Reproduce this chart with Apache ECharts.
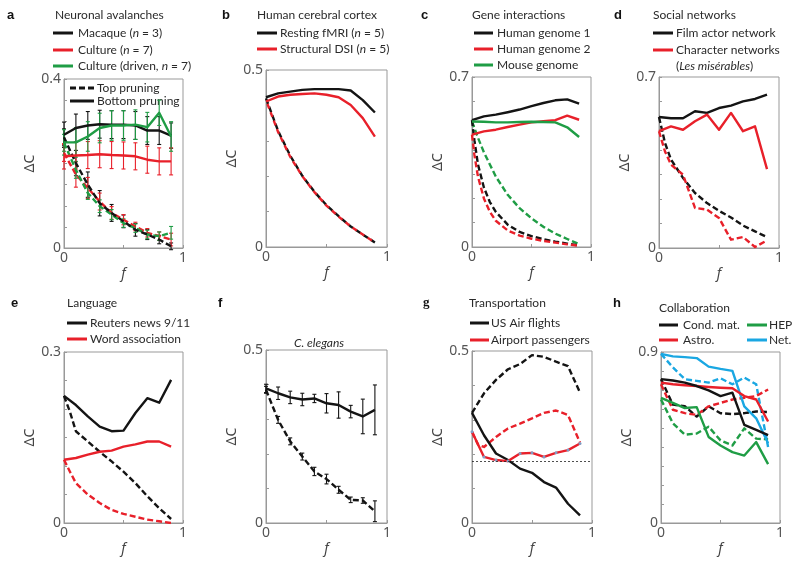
<!DOCTYPE html>
<html><head><meta charset="utf-8">
<script src="https://cdn.jsdelivr.net/npm/echarts@6/dist/echarts.min.js"></script>
<style>html,body{margin:0;padding:0;background:#fff}#c{width:800px;height:562px}</style>
</head><body><div id="c"></div>
<script>
// ---------- data ----------
const fStep = [0,0.1,0.2,0.3,0.4,0.5,0.6,0.7,0.8,0.9];
const fFine = [0,0.02,0.05,0.1,0.15,0.2,0.3,0.4,0.5,0.6,0.7,0.8,0.9];
const fHalf = [0,0.05,0.1,0.2,0.3,0.4,0.5,0.6,0.7,0.8,0.9];

// a  Neuronal avalanches
const aMacaqueBottom = [0.268,0.284,0.290,0.293,0.292,0.292,0.290,0.278,0.278,0.266];
const aMacaqueBottomErr = [0.030,0.033,0.033,0.033,0.033,0.033,0.033,0.033,0.033,0.030];
const aCultureBottom = [0.217,0.219,0.220,0.222,0.220,0.219,0.217,0.209,0.205,0.205];
const aCultureBottomErr = [0.030,0.032,0.032,0.032,0.032,0.032,0.032,0.032,0.032,0.032];
const aDrivenBottom = [0.250,0.250,0.264,0.284,0.290,0.290,0.292,0.286,0.320,0.264];
const aDrivenBottomErr = [0.030,0.035,0.035,0.035,0.035,0.035,0.035,0.035,0.030,0.035];
const aMacaqueTop = [0.262,0.201,0.150,0.106,0.083,0.063,0.043,0.032,0.020,0.004];
const aMacaqueTopErr = [0.020,0.030,0.030,0.030,0.020,0.015,0.015,0.012,0.010,0.008];
const aCultureTop = [0.225,0.174,0.142,0.110,0.083,0.067,0.051,0.036,0.028,0.020];
const aCultureTopErr = [0.020,0.030,0.025,0.020,0.015,0.012,0.010,0.010,0.010,0.015];
const aDrivenTop = [0.249,0.185,0.130,0.099,0.079,0.059,0.047,0.032,0.028,0.036];
const aDrivenTopErr = [0.020,0.020,0.015,0.015,0.012,0.010,0.010,0.010,0.010,0.015];

// b  Human cerebral cortex
const bFmriBottom = [0.423,0.434,0.439,0.444,0.446,0.446,0.446,0.442,0.415,0.380];
const bDsiBottom = [0.411,0.425,0.430,0.432,0.434,0.430,0.423,0.401,0.364,0.312];
const bFmriTop = [0.420,0.328,0.258,0.201,0.156,0.118,0.087,0.058,0.035,0.013];
const bDsiTop = [0.415,0.325,0.255,0.200,0.155,0.117,0.086,0.058,0.035,0.013];

// c  Gene interactions (top pruning on fFine)
const cHuman1Bottom = [0.522,0.538,0.545,0.555,0.566,0.580,0.593,0.604,0.608,0.590];
const cHuman2Bottom = [0.463,0.476,0.483,0.494,0.504,0.513,0.518,0.522,0.541,0.524];
const cMouseBottom = [0.517,0.516,0.513,0.513,0.515,0.516,0.515,0.513,0.493,0.453];
const cHuman1Top = [0.522,0.440,0.340,0.245,0.185,0.145,0.092,0.062,0.045,0.032,0.022,0.014,0.006];
const cHuman2Top = [0.463,0.380,0.290,0.200,0.145,0.108,0.068,0.047,0.034,0.025,0.018,0.011,0.005];
const cMouseTop = [0.517,0.490,0.450,0.390,0.340,0.290,0.215,0.160,0.118,0.083,0.055,0.033,0.012];

// d  Social networks (top pruning on fHalf)
const dFilmBottom = [0.536,0.531,0.531,0.560,0.553,0.573,0.583,0.600,0.610,0.628];
const dCharBottom = [0.478,0.498,0.484,0.519,0.546,0.484,0.553,0.478,0.498,0.323];
const dFilmTop = [0.536,0.430,0.362,0.287,0.225,0.184,0.152,0.125,0.092,0.068,0.045];
const dCharTop = [0.478,0.395,0.341,0.300,0.164,0.157,0.123,0.034,0.045,0.004,0.031];

// e  Language (top pruning on fHalf)
const eReutersBottom = [0.223,0.207,0.187,0.169,0.161,0.162,0.193,0.219,0.211,0.251];
const eWordBottom = [0.111,0.114,0.120,0.125,0.127,0.134,0.138,0.143,0.143,0.134];
const eReutersTop = [0.223,0.195,0.161,0.143,0.125,0.108,0.090,0.070,0.047,0.026,0.007];
const eWordTop = [0.111,0.090,0.070,0.050,0.035,0.023,0.016,0.011,0.006,0.003,0.000];

// f  C. elegans
const fElegansBottom = [0.389,0.375,0.363,0.357,0.360,0.346,0.341,0.322,0.308,0.327];
const fElegansBottomErr = [0.012,0.018,0.018,0.018,0.012,0.028,0.038,0.018,0.050,0.072];
const fElegansTop = [0.385,0.298,0.236,0.192,0.149,0.127,0.096,0.067,0.065,0.034];
const fElegansTopErr = [0.010,0.010,0.010,0.010,0.012,0.014,0.010,0.008,0.008,0.030];

// g  Transportation (red top pruning on fHalf)
const gFlightsBottom = [0.320,0.255,0.202,0.183,0.158,0.146,0.119,0.103,0.056,0.022];
const gFlightsTop = [0.320,0.377,0.416,0.447,0.462,0.488,0.483,0.469,0.456,0.379];
const gPassBottom = [0.265,0.192,0.183,0.180,0.202,0.204,0.192,0.204,0.212,0.231];
const gPassTop = [0.265,0.228,0.221,0.250,0.275,0.289,0.304,0.320,0.327,0.314,0.234];
const gReference = [0.178];

// h  Collaboration
const hCondBottom = [0.757,0.750,0.739,0.721,0.698,0.668,0.686,0.516,0.490,0.462];
const hCondTop = [0.757,0.623,0.615,0.560,0.614,0.578,0.573,0.578,0.587,0.584];
const hAstroBottom = [0.739,0.730,0.725,0.721,0.716,0.712,0.709,0.668,0.650,0.534];
const hAstroTop = [0.730,0.596,0.578,0.569,0.614,0.632,0.650,0.659,0.668,0.703];
const hHepBottom = [0.659,0.632,0.605,0.610,0.453,0.408,0.373,0.355,0.426,0.310];
const hHepTop = [0.650,0.525,0.465,0.471,0.507,0.435,0.408,0.498,0.444,0.440];
const hNetBottom = [0.890,0.877,0.873,0.868,0.823,0.811,0.801,0.614,0.551,0.420];
const hNetTop = [0.890,0.819,0.757,0.748,0.739,0.762,0.730,0.766,0.730,0.400];

// axis maxima / tick steps
const yMax = [0.4,0.5,0.7,0.7,0.3,0.5,0.5,0.9];
const yStep = [0.05,0.1,0.1,0.1,0.05,0.1,0.1,0.1];

// ---------- styling ----------
const K = '#141414', R = '#e8202a', G = '#1f9d45', B = '#1aa7e2';
const FONT = 'Lato';
const AFONT = '"Noto Sans", "Open Sans", sans-serif';
const grids = [
  {left:64, top:79, width:119, height:169},
  {left:266, top:70, width:121, height:177},
  {left:472, top:77, width:119, height:170},
  {left:659, top:77, width:120, height:171},
  {left:64, top:352, width:119, height:171},
  {left:266, top:350, width:121, height:173},
  {left:472, top:351, width:120, height:172},
  {left:661, top:352, width:119, height:171}
];

const xAxes = grids.map((g,i)=>({
  gridIndex:i, type:'value', min:0, max:1, interval:0.5,
  axisLine:{show:true, onZero:false, lineStyle:{color:'#999', width:1}},
  axisTick:{show:true, inside:true, length:3, lineStyle:{color:'#999'}},
  splitLine:{show:false},
  axisLabel:{color:'#555', fontSize:14, fontFamily:AFONT, margin:3,
    formatter:v=> (v===0?'0':(Math.abs(v-1)<1e-9?'1':''))},
  name:'f', nameLocation:'middle', nameGap:19,
  nameTextStyle:{fontStyle:'italic', fontSize:14, color:'#444', fontFamily:AFONT}
}));
const yAxes = grids.map((g,i)=>({
  gridIndex:i, type:'value', min:0, max:yMax[i], interval:yStep[i],
  axisLine:{show:true, lineStyle:{color:'#999', width:1}},
  axisTick:{show:true, inside:true, length:3, lineStyle:{color:'#999'}},
  splitLine:{show:false},
  axisLabel:{color:'#555', fontSize:14, fontFamily:AFONT, margin:3,
    formatter:v=> (Math.abs(v)<1e-9?'0':(Math.abs(v-yMax[i])<1e-9?String(yMax[i]):''))},
  name:'\u0394C', nameLocation:'middle', nameGap:22, nameRotate:90,
  nameTextStyle:{fontSize:14, color:'#444', fontFamily:AFONT}
}));

const series = [];
function pairs(xs, ys){ return ys.map((y,k)=>[xs[k], y]); }
function line(gi, xs, ys, color, dashed, extra){
  series.push(Object.assign({
    type:'line', xAxisIndex:gi, yAxisIndex:gi, data:pairs(xs,ys),
    showSymbol:false, symbol:'none', silent:true, animation:false,
    lineStyle:{color:color, width:2.4, type: dashed?[6,3]:'solid', cap:'butt', join:'round'}
  }, extra||{}));
}
function errs(gi, xs, ys, es, color){
  series.push({
    type:'custom', xAxisIndex:gi, yAxisIndex:gi, silent:true, animation:false,
    data: ys.map((y,k)=>[xs[k], y, es[k]]),
    encode:{x:0, y:1},
    renderItem:function(params, api){
      const x = api.value(0), y = api.value(1), e = api.value(2);
      const t = api.coord([x, y+e]), b = api.coord([x, y-e]);
      const st = {stroke:color, lineWidth:1.1};
      return {type:'group', children:[
        {type:'line', shape:{x1:t[0], y1:t[1], x2:b[0], y2:b[1]}, style:st},
        {type:'line', shape:{x1:t[0]-2, y1:t[1], x2:t[0]+2, y2:t[1]}, style:st},
        {type:'line', shape:{x1:b[0]-2, y1:b[1], x2:b[0]+2, y2:b[1]}, style:st}
      ]};
    }
  });
}

// a
errs(0,fStep,aMacaqueTop,aMacaqueTopErr,K);
errs(0,fStep,aCultureTop,aCultureTopErr,R);
errs(0,fStep,aDrivenTop,aDrivenTopErr,G);
errs(0,fStep,aMacaqueBottom,aMacaqueBottomErr,K);
errs(0,fStep,aCultureBottom,aCultureBottomErr,R);
errs(0,fStep,aDrivenBottom,aDrivenBottomErr,G);
line(0,fStep,aCultureTop,R,true);
line(0,fStep,aDrivenTop,G,true);
line(0,fStep,aMacaqueTop,K,true);
line(0,fStep,aMacaqueBottom,K,false);
line(0,fStep,aCultureBottom,R,false);
line(0,fStep,aDrivenBottom,G,false);
// b
line(1,fStep,bFmriTop,K,true);
line(1,fStep,bDsiTop,R,true,{lineStyle:{color:R,width:2.4,type:[5,4],dashOffset:5}});
line(1,fStep,bFmriBottom,K,false);
line(1,fStep,bDsiBottom,R,false);
// c
line(2,fFine,cMouseTop,G,true);
line(2,fFine,cHuman1Top,K,true);
line(2,fFine,cHuman2Top,R,true);
line(2,fStep,cHuman1Bottom,K,false);
line(2,fStep,cHuman2Bottom,R,false);
line(2,fStep,cMouseBottom,G,false);
// d
line(3,fHalf,dFilmTop,K,true);
line(3,fHalf,dCharTop,R,true);
line(3,fStep,dFilmBottom,K,false);
line(3,fStep,dCharBottom,R,false);
// e
line(4,fHalf,eReutersTop,K,true);
line(4,fHalf,eWordTop,R,true);
line(4,fStep,eReutersBottom,K,false);
line(4,fStep,eWordBottom,R,false);
// f
errs(5,fStep,fElegansBottom,fElegansBottomErr,K);
errs(5,fStep,fElegansTop,fElegansTopErr,K);
line(5,fStep,fElegansBottom,K,false);
line(5,fStep,fElegansTop,K,true);
// g
line(6,fStep,gFlightsTop,K,true,{markLine:{silent:true, symbol:'none', label:{show:false},
  lineStyle:{color:'#222', type:[2,2], width:0.8}, data:[{yAxis:gReference[0]}]}});
line(6,fHalf,gPassTop,R,true);
line(6,fStep,gFlightsBottom,K,false);
line(6,fStep,gPassBottom,R,false,{showSymbol:true, symbol:'circle', symbolSize:3, itemStyle:{color:'#7f9cc4'}});
// h
line(7,fStep,hNetTop,B,true);
line(7,fStep,hHepTop,G,true);
line(7,fStep,hCondTop,K,true);
line(7,fStep,hAstroTop,R,true);
line(7,fStep,hNetBottom,B,false);
line(7,fStep,hHepBottom,G,false);
line(7,fStep,hAstroBottom,R,false);
line(7,fStep,hCondBottom,K,false);

// ---------- annotations ----------
const gfx = [];
const FS = 12;
const INK = '#2a2a2a';
function txt(x, y, text, opt){
  gfx.push({type:'text', x:x, y:y, silent:true, style:Object.assign({
    text:text, fill:INK, fontSize:FS, fontFamily:FONT, fontStyle:'normal', fontWeight:'normal',
    verticalAlign:'middle', align:'left'
  }, opt||{})});
}
function rich(x, y, text){
  txt(x, y, text, {rich:{
    t:{fontSize:FS, fontFamily:FONT, fill:INK, fontStyle:'normal'},
    i:{fontSize:FS, fontFamily:FONT, fill:INK, fontStyle:'italic'}
  }});
}
function sw(x1, x2, y, color, dashed){
  gfx.push({type:'line', silent:true, shape:{x1:x1, y1:y, x2:x2, y2:y},
    style:{stroke:color, lineWidth:3, lineDash: dashed?[6,3]:null}});
}
function letter(x, y, ch, serif){
  txt(x, y, ch, {fontSize:13, fontWeight:'bold', fill:'#111',
    fontFamily: serif ? '"Liberation Serif", serif' : '"Liberation Sans", Arial, sans-serif'});
}
// a
letter(7,15,'a');
txt(55,15,'Neuronal avalanches');
sw(53,73,33,K); rich(78,33,'{t|Macaque (}{i|n}{t| = 3)}');
sw(53,73,50,R); rich(78,50,'{t|Culture (}{i|n}{t| = 7)}');
sw(53,73,66,G); rich(78,66,'{t|Culture (driven, }{i|n}{t| = 7)}');
sw(70,94,88,K,true); txt(97,88,'Top pruning');
sw(70,94,101,K); txt(97,101,'Bottom pruning');
// b
letter(222,15,'b');
txt(257,15,'Human cerebral cortex');
sw(257,277,33,K); rich(280,33,'{t|Resting fMRI (}{i|n}{t| = 5)}');
sw(257,277,49,R); rich(280,49,'{t|Structural DSI (}{i|n}{t| = 5)}');
// c
letter(421,15,'c');
txt(472,15,'Gene interactions');
sw(474,493,33,K); txt(497,33,'Human genome 1');
sw(474,493,49,R); txt(497,49,'Human genome 2');
sw(474,493,65,G); txt(497,65,'Mouse genome');
// d
letter(614,15,'d');
txt(653,15,'Social networks');
sw(653,673,33,K); txt(676,33,'Film actor network');
sw(653,673,50,R); txt(676,50,'Character networks');
rich(676,66,'{t|(}{i|Les misérables}{t|)}');
// e
letter(11,303,'e');
txt(67,303,'Language');
sw(67,87,323,K); txt(90,323,'Reuters news 9/11');
sw(67,87,339,R); txt(90,339,'Word association');
// f
letter(218,303,'f');
txt(319,343,'C. elegans',{align:'center', fontStyle:'italic'});
// g
letter(423,303,'g',true);
txt(469,303,'Transportation');
sw(470,489,323,K); txt(491,323,'US Air flights');
sw(470,489,340,R); txt(491,340,'Airport passengers');
// h
letter(613,303,'h');
txt(659,308,'Collaboration');
sw(659,678,325,K); txt(683,325,'Cond. mat.');
sw(659,678,340,R); txt(683,340,'Astro.');
sw(747,767,325,G); txt(769,325,'HEP');
sw(747,767,340,B); txt(769,340,'Net.');

const chart = echarts.init(document.getElementById('c'), null, {renderer:'canvas'});
chart.setOption({
  animation:false,
  backgroundColor:'#fff',
  grid: grids.map(g=>Object.assign({show:true, borderColor:'#999', borderWidth:1, containLabel:false}, g)),
  xAxis: xAxes,
  yAxis: yAxes,
  series: series,
  graphic: {elements: gfx}
});
</script>
</body></html>
